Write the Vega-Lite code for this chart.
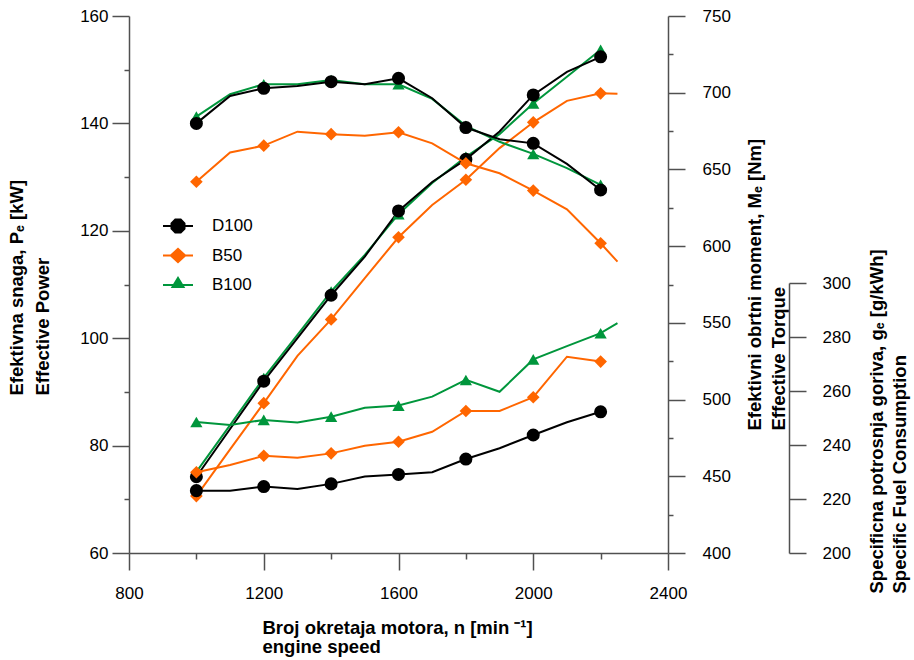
{
  "$schema": "https://vega.github.io/schema/vega-lite/v6.json",
  "width": 539,
  "height": 537,
  "autosize": {"type": "none"},
  "padding": {"left": 129, "top": 16, "right": 246, "bottom": 107},
  "background": "white",
  "config": {
    "view": {"stroke": null},
    "font": "Liberation Sans",
    "axis": {
      "grid": false,
      "domainColor": "#505050",
      "domainWidth": 1.5,
      "tickColor": "#505050",
      "tickWidth": 1.5,
      "labelFont": "Liberation Sans",
      "labelFontSize": 17,
      "labelColor": "#000000",
      "titleFont": "Liberation Sans",
      "titleFontSize": 18.5,
      "titleFontWeight": "bold",
      "titleColor": "#000000"
    }
  },
  "datasets": {
    "d": [
      {"f": "B50", "q": "P", "n": 1000, "v": 70.6},
      {"f": "B50", "q": "P", "n": 1100, "v": 79.3},
      {"f": "B50", "q": "P", "n": 1200, "v": 87.9},
      {"f": "B50", "q": "P", "n": 1300, "v": 96.7},
      {"f": "B50", "q": "P", "n": 1400, "v": 103.5},
      {"f": "B50", "q": "P", "n": 1500, "v": 111.2},
      {"f": "B50", "q": "P", "n": 1600, "v": 118.8},
      {"f": "B50", "q": "P", "n": 1700, "v": 124.8},
      {"f": "B50", "q": "P", "n": 1800, "v": 129.5},
      {"f": "B50", "q": "P", "n": 1900, "v": 135.4},
      {"f": "B50", "q": "P", "n": 2000, "v": 140.2},
      {"f": "B50", "q": "P", "n": 2100, "v": 144.2},
      {"f": "B50", "q": "P", "n": 2200, "v": 145.6},
      {"f": "B50", "q": "P", "n": 2250, "v": 145.5},
      {"f": "B50", "q": "M", "n": 1000, "v": 642.0},
      {"f": "B50", "q": "M", "n": 1100, "v": 661.0},
      {"f": "B50", "q": "M", "n": 1200, "v": 665.5},
      {"f": "B50", "q": "M", "n": 1300, "v": 674.6},
      {"f": "B50", "q": "M", "n": 1400, "v": 673.0},
      {"f": "B50", "q": "M", "n": 1500, "v": 671.9},
      {"f": "B50", "q": "M", "n": 1600, "v": 674.2},
      {"f": "B50", "q": "M", "n": 1700, "v": 667.0},
      {"f": "B50", "q": "M", "n": 1800, "v": 654.0},
      {"f": "B50", "q": "M", "n": 1900, "v": 647.5},
      {"f": "B50", "q": "M", "n": 2000, "v": 636.2},
      {"f": "B50", "q": "M", "n": 2100, "v": 624.0},
      {"f": "B50", "q": "M", "n": 2200, "v": 601.9},
      {"f": "B50", "q": "M", "n": 2250, "v": 589.9},
      {"f": "B50", "q": "g", "n": 1000, "v": 229.9},
      {"f": "B50", "q": "g", "n": 1100, "v": 232.6},
      {"f": "B50", "q": "g", "n": 1200, "v": 236.0},
      {"f": "B50", "q": "g", "n": 1300, "v": 235.3},
      {"f": "B50", "q": "g", "n": 1400, "v": 236.9},
      {"f": "B50", "q": "g", "n": 1500, "v": 239.7},
      {"f": "B50", "q": "g", "n": 1600, "v": 241.2},
      {"f": "B50", "q": "g", "n": 1700, "v": 244.9},
      {"f": "B50", "q": "g", "n": 1800, "v": 252.6},
      {"f": "B50", "q": "g", "n": 1900, "v": 252.6},
      {"f": "B50", "q": "g", "n": 2000, "v": 257.7},
      {"f": "B50", "q": "g", "n": 2100, "v": 272.7},
      {"f": "B50", "q": "g", "n": 2200, "v": 270.9},
      {"f": "B100", "q": "P", "n": 1000, "v": 75.1},
      {"f": "B100", "q": "P", "n": 1100, "v": 83.8},
      {"f": "B100", "q": "P", "n": 1200, "v": 92.6},
      {"f": "B100", "q": "P", "n": 1300, "v": 100.6},
      {"f": "B100", "q": "P", "n": 1400, "v": 108.7},
      {"f": "B100", "q": "P", "n": 1500, "v": 115.5},
      {"f": "B100", "q": "P", "n": 1600, "v": 123.1},
      {"f": "B100", "q": "P", "n": 1700, "v": 128.9},
      {"f": "B100", "q": "P", "n": 1800, "v": 133.8},
      {"f": "B100", "q": "P", "n": 1900, "v": 138.0},
      {"f": "B100", "q": "P", "n": 2000, "v": 143.7},
      {"f": "B100", "q": "P", "n": 2100, "v": 148.7},
      {"f": "B100", "q": "P", "n": 2200, "v": 153.7},
      {"f": "B100", "q": "M", "n": 1000, "v": 684.4},
      {"f": "B100", "q": "M", "n": 1100, "v": 699.0},
      {"f": "B100", "q": "M", "n": 1200, "v": 705.5},
      {"f": "B100", "q": "M", "n": 1300, "v": 705.5},
      {"f": "B100", "q": "M", "n": 1400, "v": 708.3},
      {"f": "B100", "q": "M", "n": 1500, "v": 705.5},
      {"f": "B100", "q": "M", "n": 1600, "v": 705.5},
      {"f": "B100", "q": "M", "n": 1700, "v": 696.0},
      {"f": "B100", "q": "M", "n": 1800, "v": 678.4},
      {"f": "B100", "q": "M", "n": 1900, "v": 668.0},
      {"f": "B100", "q": "M", "n": 2000, "v": 660.1},
      {"f": "B100", "q": "M", "n": 2100, "v": 650.8},
      {"f": "B100", "q": "M", "n": 2200, "v": 639.9},
      {"f": "B100", "q": "g", "n": 1000, "v": 248.5},
      {"f": "B100", "q": "g", "n": 1100, "v": 247.4},
      {"f": "B100", "q": "g", "n": 1200, "v": 249.3},
      {"f": "B100", "q": "g", "n": 1300, "v": 248.3},
      {"f": "B100", "q": "g", "n": 1400, "v": 250.5},
      {"f": "B100", "q": "g", "n": 1500, "v": 253.8},
      {"f": "B100", "q": "g", "n": 1600, "v": 254.6},
      {"f": "B100", "q": "g", "n": 1700, "v": 257.9},
      {"f": "B100", "q": "g", "n": 1800, "v": 264.1},
      {"f": "B100", "q": "g", "n": 1900, "v": 259.7},
      {"f": "B100", "q": "g", "n": 2000, "v": 271.7},
      {"f": "B100", "q": "g", "n": 2100, "v": 276.6},
      {"f": "B100", "q": "g", "n": 2200, "v": 281.4},
      {"f": "B100", "q": "g", "n": 2250, "v": 285.1},
      {"f": "D100", "q": "P", "n": 1000, "v": 74.2},
      {"f": "D100", "q": "P", "n": 1100, "v": 83.1},
      {"f": "D100", "q": "P", "n": 1200, "v": 92.0},
      {"f": "D100", "q": "P", "n": 1300, "v": 100.0},
      {"f": "D100", "q": "P", "n": 1400, "v": 108.0},
      {"f": "D100", "q": "P", "n": 1500, "v": 115.2},
      {"f": "D100", "q": "P", "n": 1600, "v": 123.7},
      {"f": "D100", "q": "P", "n": 1700, "v": 129.1},
      {"f": "D100", "q": "P", "n": 1800, "v": 133.3},
      {"f": "D100", "q": "P", "n": 1900, "v": 138.5},
      {"f": "D100", "q": "P", "n": 2000, "v": 145.3},
      {"f": "D100", "q": "P", "n": 2100, "v": 149.6},
      {"f": "D100", "q": "P", "n": 2200, "v": 152.4},
      {"f": "D100", "q": "M", "n": 1000, "v": 680.0},
      {"f": "D100", "q": "M", "n": 1100, "v": 697.9},
      {"f": "D100", "q": "M", "n": 1200, "v": 702.9},
      {"f": "D100", "q": "M", "n": 1300, "v": 704.4},
      {"f": "D100", "q": "M", "n": 1400, "v": 707.2},
      {"f": "D100", "q": "M", "n": 1500, "v": 705.5},
      {"f": "D100", "q": "M", "n": 1600, "v": 709.4},
      {"f": "D100", "q": "M", "n": 1700, "v": 696.4},
      {"f": "D100", "q": "M", "n": 1800, "v": 677.3},
      {"f": "D100", "q": "M", "n": 1900, "v": 669.7},
      {"f": "D100", "q": "M", "n": 2000, "v": 667.0},
      {"f": "D100", "q": "M", "n": 2100, "v": 653.6},
      {"f": "D100", "q": "M", "n": 2200, "v": 636.6},
      {"f": "D100", "q": "g", "n": 1000, "v": 223.1},
      {"f": "D100", "q": "g", "n": 1100, "v": 223.1},
      {"f": "D100", "q": "g", "n": 1200, "v": 224.6},
      {"f": "D100", "q": "g", "n": 1300, "v": 223.7},
      {"f": "D100", "q": "g", "n": 1400, "v": 225.6},
      {"f": "D100", "q": "g", "n": 1500, "v": 228.3},
      {"f": "D100", "q": "g", "n": 1600, "v": 229.1},
      {"f": "D100", "q": "g", "n": 1700, "v": 229.9},
      {"f": "D100", "q": "g", "n": 1800, "v": 234.8},
      {"f": "D100", "q": "g", "n": 1900, "v": 238.8},
      {"f": "D100", "q": "g", "n": 2000, "v": 243.7},
      {"f": "D100", "q": "g", "n": 2100, "v": 248.4},
      {"f": "D100", "q": "g", "n": 2200, "v": 252.3}
    ]
  },
  "data": {"name": "d"},
  "encoding": {
    "x": {
      "field": "n",
      "type": "quantitative",
      "scale": {"domain": [800, 2400], "nice": false, "zero": false},
      "axis": {
        "values": [800, 1000, 1200, 1400, 1600, 1800, 2000, 2200, 2400],
        "format": "d",
        "labelExpr": "datum.value % 400 === 0 ? datum.label : ''",
        "tickSize": {"condition": {"test": "datum.value % 400 === 0", "value": 17}, "value": 6},
        "labelPadding": 15,
        "labelFlush": false,
        "labelOverlap": false,
        "title": ["Broj okretaja motora, n [min ⁻¹]", "engine speed"],
        "titleAlign": "left",
        "titleAnchor": "start",
        "titleBaseline": "top",
        "titleX": 133,
        "titleY": 65,
        "titleLineHeight": 19
      }
    },
    "color": {
      "field": "f",
      "type": "nominal",
      "scale": {"domain": ["D100", "B50", "B100"], "range": ["#000000", "#FF6600", "#00963C"]},
      "legend": {
        "orient": "none",
        "legendX": 38,
        "legendY": 199,
        "title": null,
        "padding": 0,
        "rowPadding": 7.5,
        "symbolSize": 400,
        "symbolStrokeWidth": 2,
        "symbolOpacity": 1,
        "labelFont": "Liberation Sans",
        "labelFontSize": 17,
        "labelColor": "#000000",
        "labelOffset": 23,
        "encode": {
          "symbols": {
            "update": {
              "shape": {"signal": "datum.value === 'D100' ? 'M-1.5,0H1.5M0.65,0.27L0.27,0.65L-0.27,0.65L-0.65,0.27L-0.65,-0.27L-0.27,-0.65L0.27,-0.65L0.65,-0.27Z' : datum.value === 'B50' ? 'M-1.5,0H1.5M-0.72,0L0,-0.66L0.72,0L0,0.66Z' : 'M-1.5,0H1.5M-0.55,0.2L0.55,0.2L0,-0.7Z'"},
              "fill": {"signal": "scale('color', datum.value)"},
              "stroke": {"signal": "scale('color', datum.value)"},
              "strokeWidth": {"value": 2},
              "opacity": {"value": 1}
            }
          }
        }
      }
    }
  },
  "layer": [
    {
      "transform": [{"filter": "datum.q === 'P'"}],
      "encoding": {
        "y": {
          "field": "v",
          "type": "quantitative",
          "scale": {"domain": [60, 160], "nice": false, "zero": false},
          "axis": {
            "orient": "left",
            "values": [60, 70, 80, 90, 100, 110, 120, 130, 140, 150, 160],
            "labelExpr": "datum.value % 20 === 0 ? datum.label : ''",
            "tickSize": {"condition": {"test": "datum.value % 20 === 0", "value": 17}, "value": 5},
            "labelPadding": 4,
            "title": ["Efektivna snaga, Pₑ [kW]", "Effective Power"],
            "titleAngle": 270,
            "titleAlign": "left",
            "titleAnchor": "start",
            "titleBaseline": "top",
            "titleX": -122,
            "titleY": 379,
            "titleLineHeight": 26
          }
        }
      },
      "layer": [
        {"mark": {"type": "line", "strokeWidth": 2}},
        {"transform": [{"filter": "datum.n % 200 === 0 && datum.f === 'B50'"}], "mark": {"type": "point", "filled": true, "shape": "diamond", "size": 160, "opacity": 1}},
        {"transform": [{"filter": "datum.n % 200 === 0 && datum.f === 'B100'"}], "mark": {"type": "point", "filled": true, "shape": "triangle-up", "size": 150, "opacity": 1}},
        {"transform": [{"filter": "datum.n % 200 === 0 && datum.f === 'D100'"}], "mark": {"type": "point", "filled": true, "shape": "circle", "size": 170, "opacity": 1}}
      ]
    },
    {
      "transform": [{"filter": "datum.q === 'M'"}],
      "encoding": {
        "y": {
          "field": "v",
          "type": "quantitative",
          "scale": {"domain": [400, 750], "nice": false, "zero": false},
          "axis": {
            "orient": "right",
            "values": [400, 425, 450, 475, 500, 525, 550, 575, 600, 625, 650, 675, 700, 725, 750],
            "labelExpr": "datum.value % 50 === 0 ? datum.label : ''",
            "tickSize": {"condition": {"test": "datum.value % 50 === 0", "value": 17}, "value": 5},
            "labelPadding": 17,
            "title": ["Efektivni obrtni moment, Mₑ [Nm]", "Effective Torque"],
            "titleAngle": 270,
            "titleAlign": "left",
            "titleAnchor": "start",
            "titleBaseline": "top",
            "titleX": 77,
            "titleY": 414,
            "titleLineHeight": 24
          }
        }
      },
      "layer": [
        {"mark": {"type": "line", "strokeWidth": 2}},
        {"transform": [{"filter": "datum.n % 200 === 0 && datum.f === 'B50'"}], "mark": {"type": "point", "filled": true, "shape": "diamond", "size": 160, "opacity": 1}},
        {"transform": [{"filter": "datum.n % 200 === 0 && datum.f === 'B100'"}], "mark": {"type": "point", "filled": true, "shape": "triangle-up", "size": 150, "opacity": 1}},
        {"transform": [{"filter": "datum.n % 200 === 0 && datum.f === 'D100'"}], "mark": {"type": "point", "filled": true, "shape": "circle", "size": 170, "opacity": 1}}
      ]
    },
    {
      "transform": [{"filter": "datum.q === 'g'"}],
      "encoding": {
        "y": {
          "field": "v",
          "type": "quantitative",
          "scale": {"domain": [200, 300], "range": [537, 267], "nice": false, "zero": false},
          "axis": {
            "orient": "right",
            "offset": 121,
            "values": [200, 220, 240, 260, 280, 300],
            "tickSize": 17,
            "labelPadding": 16,
            "title": ["Specificna potrosnja goriva, gₑ [g/kWh]", "Specific Fuel Consumption"],
            "titleAngle": 270,
            "titleAlign": "left",
            "titleAnchor": "start",
            "titleBaseline": "top",
            "titleX": 78,
            "titleY": 577,
            "titleLineHeight": 23
          }
        }
      },
      "layer": [
        {"mark": {"type": "line", "strokeWidth": 2}},
        {"transform": [{"filter": "datum.n % 200 === 0 && datum.f === 'B50'"}], "mark": {"type": "point", "filled": true, "shape": "diamond", "size": 160, "opacity": 1}},
        {"transform": [{"filter": "datum.n % 200 === 0 && datum.f === 'B100'"}], "mark": {"type": "point", "filled": true, "shape": "triangle-up", "size": 150, "opacity": 1}},
        {"transform": [{"filter": "datum.n % 200 === 0 && datum.f === 'D100'"}], "mark": {"type": "point", "filled": true, "shape": "circle", "size": 170, "opacity": 1}}
      ]
    }
  ],
  "resolve": {"scale": {"y": "independent"}, "axis": {"y": "independent"}}
}
